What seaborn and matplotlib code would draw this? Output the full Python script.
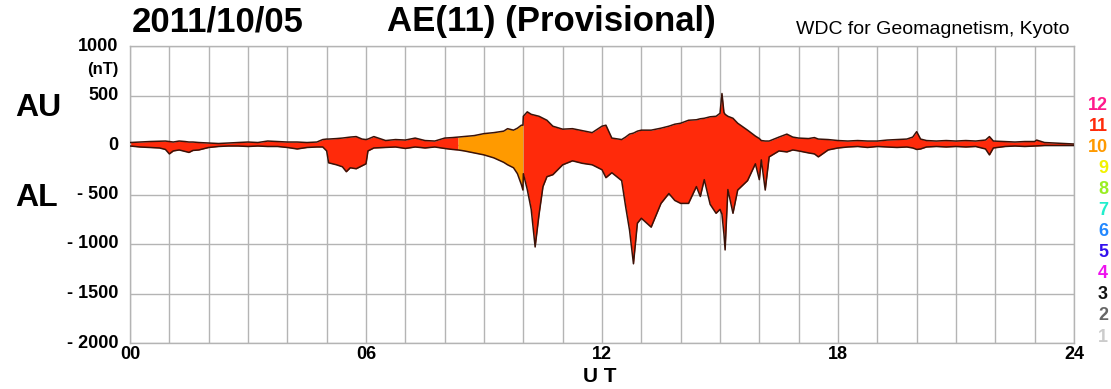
import numpy as np
import pandas as pd
import matplotlib
matplotlib.use("Agg")
import matplotlib.pyplot as plt
import seaborn as sns

# ---------------------------------------------------------------
# AE(11) provisional, 2011/10/05 - AU / AL valores
# ---------------------------------------------------------------
horas = [0.0, 0.25, 0.5, 0.75, 0.9, 1.0, 1.1, 1.25, 1.4, 1.5, 1.6, 1.75,
         2.0, 2.25, 2.5, 2.75, 3.0, 3.25, 3.5, 3.75, 4.0, 4.25, 4.5, 4.75,
         4.9, 5.0, 5.05, 5.25, 5.4, 5.5, 5.6, 5.75, 5.9, 6.0, 6.05, 6.2,
         6.5, 6.75, 7.0, 7.25, 7.5, 7.75, 8.0, 8.2, 8.34, 8.5, 8.75, 9.0,
         9.25, 9.5, 9.6, 9.75, 9.85, 9.95, 9.99, 10.0, 10.1, 10.2, 10.3, 10.4,
         10.5, 10.6, 10.75, 11.0, 11.25, 11.5, 11.75, 12.0, 12.1, 12.25, 12.5, 12.6,
         12.7, 12.8, 12.9, 13.0, 13.25, 13.5, 13.7, 13.85, 14.0, 14.2, 14.4, 14.5,
         14.6, 14.75, 14.9, 15.0, 15.05, 15.1, 15.13, 15.2, 15.33, 15.45, 15.7, 15.9,
         16.0, 16.05, 16.15, 16.25, 16.5, 16.7, 16.85, 17.0, 17.25, 17.4, 17.5, 17.75,
         18.0, 18.25, 18.5, 18.75, 19.0, 19.25, 19.5, 19.75, 19.9, 20.0, 20.1, 20.25,
         20.5, 20.75, 21.0, 21.25, 21.5, 21.75, 21.85, 21.95, 22.25, 22.5, 22.75, 23.0,
         23.05, 23.25, 23.5, 23.75, 24.0]

au = [25, 30, 35, 38, 40, 35, 30, 40, 35, 30, 30, 25,
      20, 15, 20, 25, 30, 25, 40, 35, 30, 30, 25, 30,
      55, 60, 60, 65, 70, 75, 80, 85, 60, 55, 60, 85,
      45, 55, 50, 70, 45, 40, 70, 75, 80, 85, 95, 115,
      125, 140, 165, 150, 170, 200, 200, 290, 335, 310, 300, 290,
      270, 250, 190, 160, 165, 145, 125, 190, 200, 70, 55, 80,
      110, 120, 140, 150, 150, 170, 190, 210, 220, 250, 255, 265,
      270, 285, 290, 320, 520, 330, 310, 290, 270, 220, 150, 90,
      65, 45, 40, 40, 80, 110, 80, 70, 65, 75, 60, 55,
      45, 40, 45, 40, 40, 50, 55, 60, 80, 135, 60, 45,
      40, 45, 40, 45, 40, 50, 85, 40, 35, 30, 35, 35,
      50, 25, 20, 15, 10]

al = [-10, -20, -25, -30, -45, -90, -60, -50, -65, -75, -55, -50,
      -25, -15, -10, -10, -15, -10, -15, -15, -25, -40, -25, -20,
      -20, -60, -180, -200, -220, -270, -230, -240, -210, -190, -60, -30,
      -25, -20, -35, -20, -30, -20, -35, -45, -50, -60, -80, -100,
      -130, -175, -200, -230, -290, -400, -455, -290, -450, -650, -1030, -700,
      -420, -320, -300, -200, -160, -185, -200, -250, -330, -280, -360, -620,
      -860, -1200, -790, -740, -830, -590, -490, -560, -590, -590, -420, -520,
      -350, -600, -690, -650, -700, -900, -1060, -450, -690, -455, -360, -190,
      -350, -150, -455, -120, -60, -70, -50, -60, -80, -90, -120, -50,
      -30, -20, -15, -25, -15, -20, -25, -20, -30, -45, -40, -20,
      -15, -20, -15, -20, -15, -40, -100, -30, -15, -10, -15, -10,
      -10, -5, -5, -5, -5]

# número de estações usadas (intervalos)
seg_inicio = [0.0, 8.34, 10.0]
seg_fim = [8.34, 9.99, 24.0]
seg_estacoes = [11, 10, 11]

legenda_num = [12, 11, 10, 9, 8, 7, 6, 5, 4, 3, 2, 1]
cores_estacoes = {12: '#ff1a8c', 11: '#ff2a0a', 10: '#ff9a00', 9: '#f2f200',
                  8: '#99ee22', 7: '#22eecc', 6: '#2288ff', 5: '#3311ee',
                  4: '#ee11ee', 3: '#111111', 2: '#666666', 1: '#cccccc'}

yticks = [1000, 500, 0, -500, -1000, -1500, -2000]
ytick_labels = ['1000', '500', '0', '- 500', '- 1000', '- 1500', '- 2000']
xticks = [0, 6, 12, 18, 24]
xtick_labels = ['00', '06', '12', '18', '24']

df = pd.DataFrame({'hora': horas, 'AU': au, 'AL': al})

sns.set_theme(style="white")
plt.rcParams['font.family'] = ['Liberation Sans', 'DejaVu Sans']
plt.rcParams['text.color'] = 'black'

fig = plt.figure(figsize=(11.11, 3.89), dpi=100)
ax = fig.add_axes([130 / 1111, 1 - 343 / 389, 944 / 1111, 297 / 389])

# preenchimento AU-AL por número de estações
for ini, fim, n in zip(seg_inicio, seg_fim, seg_estacoes):
    m = (df['hora'] >= ini) & (df['hora'] <= fim)
    ax.fill_between(df['hora'][m], df['AL'][m], df['AU'][m],
                    color=cores_estacoes[n], linewidth=0, zorder=2)

sns.lineplot(data=df, x='hora', y='AU', ax=ax, color='#3a1208', linewidth=1.1, zorder=3)
sns.lineplot(data=df, x='hora', y='AL', ax=ax, color='#3a1208', linewidth=1.1, zorder=3)

ax.set_xlim(0, 24)
ax.set_ylim(-2000, 1000)
ax.set_xticks(range(0, 25))
ax.set_yticks(yticks)
ax.grid(True, color='#b4b4b4', linewidth=1.0, zorder=1)
ax.set_axisbelow(True)
for s in ax.spines.values():
    s.set_color('#b4b4b4')
    s.set_linewidth(1.0)
ax.tick_params(length=0)
ax.set_xticklabels([])
ax.set_yticklabels([])
ax.set_xlabel('')
ax.set_ylabel('')

# rótulos dos eixos
for v, t in zip(yticks, ytick_labels):
    ax.text(-0.3, v, t, ha='right', va='center', fontsize=13, fontweight='bold',
            transform=ax.transData)
ax.text(-0.3, 760, '(nT)', ha='right', va='center', fontsize=12, fontweight='bold')
for v, t in zip(xticks, xtick_labels):
    ax.text(v, -2120, t, ha='center', va='center', fontsize=13, fontweight='bold')
fig.text(600 / 1111, 1 - 376 / 389, 'U T', ha='center', va='center', fontsize=15, fontweight='bold')

fig.text(15 / 1111, 1 - 108 / 389, 'AU', ha='left', va='center', fontsize=23, fontweight='bold')
fig.text(15 / 1111, 1 - 198 / 389, 'AL', ha='left', va='center', fontsize=23, fontweight='bold')

fig.text(132 / 1111, 1 - 22 / 389, '2011/10/05', ha='left', va='center', fontsize=25, fontweight='bold')
fig.text(387 / 1111, 1 - 22 / 389, 'AE(11) (Provisional)', ha='left', va='center', fontsize=25, fontweight='bold')
fig.text(1070 / 1111, 1 - 30 / 389, 'WDC for Geomagnetism, Kyoto', ha='right', va='center', fontsize=14)

# legenda de cores (número de estações)
for i, n in enumerate(legenda_num):
    fig.text(1108 / 1111, 1 - (105 + i * 21.1) / 389, str(n), ha='right', va='center',
             fontsize=13, fontweight='bold', color=cores_estacoes[n])

plt.savefig('out.png', dpi=100)
plt.close()
